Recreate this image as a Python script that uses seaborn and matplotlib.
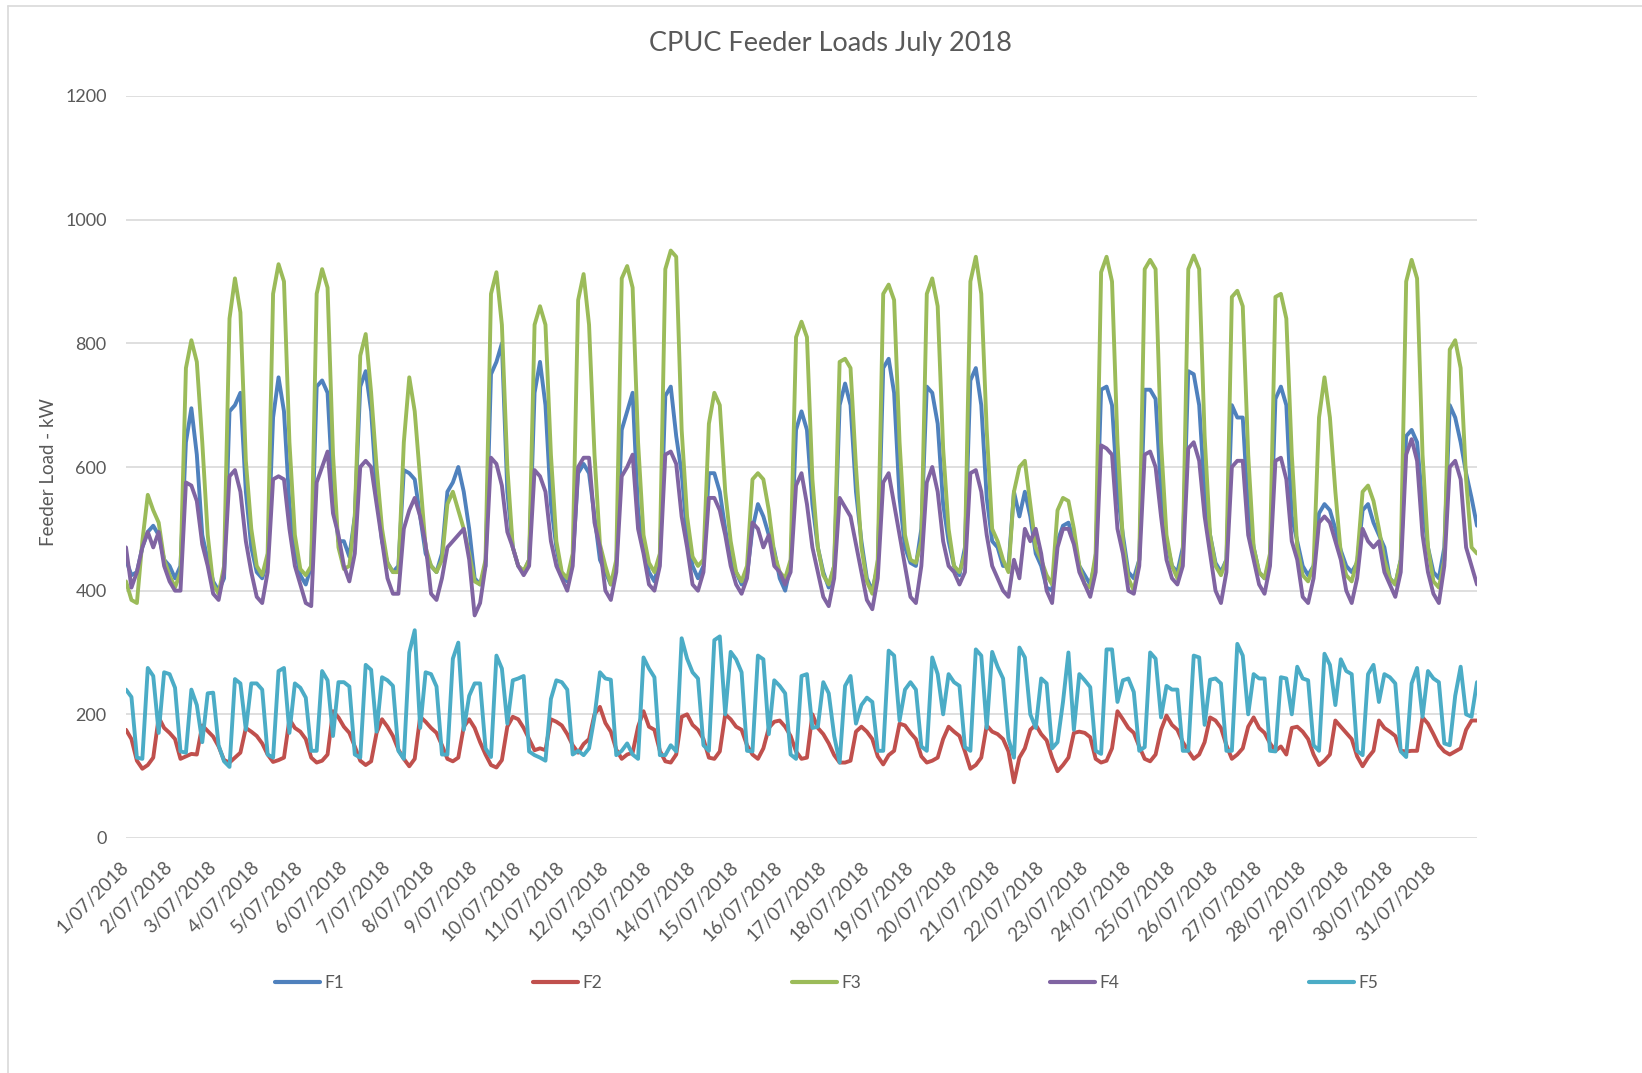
import numpy as np
import pandas as pd
import matplotlib
matplotlib.use("Agg")
import matplotlib.pyplot as plt
from matplotlib.lines import Line2D
import seaborn as sns

# ---------------- data (3-hourly readings, 00h,03h,...,21h per day; last value = end of 31/07) ----------------
day_labels = [f"{d}/07/2018" for d in range(1, 32)]
feeders = ["F1", "F2", "F3", "F4", "F5"]
step_hours = 3

F1 = [450, 425, 430, 470, 495, 505, 490, 450,
      440, 420, 440, 640, 695, 620, 490, 450,
      415, 400, 420, 690, 700, 720, 560, 470,
      430, 420, 450, 680, 745, 690, 540, 470,
      425, 410, 440, 730, 740, 720, 560, 480,
      480, 455, 520, 730, 755, 690, 560, 480,
      445, 430, 440, 595, 590, 580, 520, 460,
      440, 430, 460, 560, 575, 600, 560, 500,
      420, 410, 440, 750, 770, 800, 560, 470,
      440, 430, 450, 720, 770, 700, 540, 470,
      425, 415, 450, 590, 605, 590, 520, 450,
      430, 410, 440, 660, 690, 720, 530, 470,
      430, 415, 450, 715, 730, 650, 590, 490,
      440, 420, 440, 590, 590, 560, 500, 450,
      430, 410, 425, 500, 540, 520, 490, 465,
      420, 400, 440, 660, 690, 660, 540, 470,
      430, 405, 440, 700, 735, 700, 560, 480,
      420, 400, 440, 760, 775, 720, 550, 470,
      445, 440, 500, 730, 720, 670, 540, 480,
      440, 425, 470, 740, 760, 700, 550, 480,
      470, 440, 440, 560, 520, 560, 520, 460,
      440, 405, 400, 480, 505, 510, 480, 440,
      425, 410, 450, 725, 730, 700, 560, 490,
      430, 420, 450, 725, 725, 710, 560, 480,
      440, 430, 470, 755, 750, 700, 560, 490,
      445, 430, 450, 700, 680, 680, 530, 470,
      430, 420, 450, 710, 730, 700, 520, 480,
      440, 425, 440, 525, 540, 530, 500, 465,
      440, 430, 445, 530, 540, 510, 490, 470,
      420, 410, 450, 650, 660, 640, 540, 470,
      430, 420, 470, 700, 680, 640, 590, 550,
      505]

F2 = [175, 160, 125, 112, 118, 130, 195, 178,
      170, 160, 128, 132, 136, 135, 182, 173,
      164, 148, 126, 122, 130, 138, 178, 172,
      165, 153, 135, 123, 126, 130, 192, 178,
      172, 160, 130, 122, 125, 135, 205, 195,
      180, 170, 148, 125, 118, 124, 170, 192,
      180, 165, 143, 128, 116, 128, 196, 188,
      178, 170, 150, 128, 124, 130, 180, 192,
      178, 155, 135, 118, 114, 126, 180, 196,
      192, 178, 160, 142, 145, 142, 192, 188,
      182, 168, 150, 138, 152, 160, 200, 212,
      186, 172, 143, 128, 135, 138, 180, 205,
      180, 175, 141, 124, 122, 135, 196, 200,
      183, 175, 160, 130, 128, 140, 200, 192,
      180, 175, 150, 135, 128, 145, 178, 188,
      190, 180, 165, 140, 128, 130, 200, 178,
      168, 153, 134, 122, 122, 125, 172, 180,
      172, 160, 132, 119, 134, 141, 185, 182,
      170, 160, 132, 122, 125, 130, 160, 180,
      172, 165, 140, 112, 118, 130, 182, 172,
      168, 160, 140, 90, 130, 145, 175, 183,
      168, 158, 130, 108, 118, 130, 170, 172,
      170, 163, 128, 122, 125, 145, 205, 192,
      178, 170, 148, 128, 124, 135, 175, 198,
      183, 175, 155, 141, 128, 135, 155, 195,
      190, 178, 150, 128, 135, 145, 180, 195,
      178, 170, 153, 141, 148, 135, 178, 180,
      172, 160, 135, 118, 125, 135, 190, 180,
      170, 160, 132, 116, 130, 141, 190, 178,
      172, 165, 141, 140, 141, 141, 195, 185,
      168, 150, 140, 135, 140, 145, 175, 190,
      190]

F3 = [415, 385, 380, 480, 555, 530, 510, 450,
      425, 405, 430, 760, 805, 770, 640, 490,
      410, 395, 440, 840, 905, 850, 610, 500,
      440, 425, 460, 880, 928, 900, 640, 490,
      435, 425, 440, 880, 920, 890, 620, 470,
      435, 440, 520, 780, 815, 720, 600, 500,
      445, 430, 430, 640, 745, 690, 580, 470,
      440, 430, 450, 540, 560, 530, 500, 460,
      415, 410, 450, 880, 915, 830, 600, 470,
      440, 432, 450, 830, 860, 830, 620, 480,
      430, 420, 460, 870, 912, 830, 620, 475,
      440, 410, 450, 905, 925, 890, 640, 490,
      445, 430, 460, 920, 950, 940, 660, 520,
      455, 440, 450, 670, 720, 700, 560, 480,
      430, 415, 440, 580, 590, 580, 530, 460,
      430, 420, 450, 810, 835, 810, 580, 470,
      425, 410, 440, 770, 775, 760, 600, 470,
      415, 395, 450, 880, 895, 870, 640, 490,
      450, 445, 480, 880, 905, 860, 630, 500,
      440, 430, 460, 900, 940, 880, 660, 500,
      480, 450, 430, 560, 600, 610, 540, 470,
      450, 425, 410, 530, 550, 545, 500, 440,
      410, 405, 460, 915, 940, 900, 640, 480,
      420, 400, 450, 920, 935, 920, 640, 490,
      440, 420, 460, 920, 942, 920, 650, 490,
      440, 425, 450, 875, 885, 860, 620, 470,
      430, 420, 460, 875, 880, 840, 620, 470,
      425, 415, 440, 680, 745, 680, 560, 460,
      425, 415, 450, 560, 570, 545, 500, 450,
      420, 410, 450, 900, 935, 905, 620, 470,
      415, 405, 450, 790, 805, 760, 580, 470,
      460]

F4 = [470, 405, 430, 470, 495, 470, 495, 440,
      415, 400, 400, 575, 570, 545, 475, 440,
      395, 385, 430, 585, 595, 560, 480, 430,
      390, 380, 430, 580, 585, 580, 500, 440,
      410, 380, 375, 575, 600, 625, 525, 490,
      440, 415, 460, 600, 610, 600, 540, 480,
      420, 395, 395, 500, 530, 550, 520, 475,
      395, 385, 420, 470, 480, 490, 500, 450,
      360, 380, 440, 615, 605, 570, 495, 470,
      440, 425, 440, 595, 585, 560, 480, 440,
      420, 400, 440, 600, 615, 615, 510, 470,
      400, 385, 430, 585, 600, 620, 500, 460,
      410, 400, 440, 620, 625, 605, 520, 470,
      410, 400, 430, 550, 550, 530, 490, 440,
      410, 395, 420, 510, 500, 470, 490, 440,
      430, 410, 430, 570, 590, 540, 470, 430,
      390, 375, 420, 550, 535, 520, 475, 430,
      385, 370, 420, 575, 590, 540, 490, 440,
      390, 380, 440, 575, 600, 560, 480, 440,
      430, 410, 430, 590, 595, 560, 490, 440,
      420, 400, 390, 450, 420, 500, 480, 500,
      460, 400, 380, 470, 500, 500, 475, 430,
      410, 390, 430, 635, 630, 620, 500, 460,
      400, 395, 440, 620, 625, 600, 520, 450,
      420, 410, 440, 630, 640, 610, 520, 460,
      400, 380, 430, 600, 610, 610, 490, 450,
      410, 395, 440, 610, 615, 580, 480, 450,
      390, 380, 420, 510, 520, 510, 480, 450,
      400, 380, 420, 500, 480, 470, 480, 430,
      410, 390, 430, 620, 645, 610, 490, 430,
      395, 380, 440, 600, 610, 580, 470, 440,
      410]

F5 = [240, 228, 130, 128, 275, 262, 170, 268,
      265, 243, 140, 138, 240, 215, 155, 234,
      235, 150, 124, 115, 257, 250, 175, 250,
      250, 240, 135, 130, 270, 275, 170, 250,
      243, 227, 141, 141, 270, 255, 165, 252,
      252, 245, 135, 130, 280, 272, 172, 260,
      255, 246, 141, 128, 300, 336, 178, 268,
      265, 245, 135, 135, 290, 316, 175, 230,
      250, 250, 145, 131, 295, 274, 185, 255,
      258, 262, 140, 134, 130, 125, 225, 255,
      252, 240, 135, 141, 134, 145, 196, 268,
      258, 256, 134, 141, 153, 135, 128, 292,
      274, 260, 134, 134, 150, 140, 323, 290,
      268, 258, 150, 141, 320, 326, 200, 301,
      289, 268, 141, 140, 295, 289, 168, 255,
      246, 234, 135, 128, 262, 265, 178, 180,
      252, 234, 165, 122, 246, 262, 185, 215,
      227, 220, 141, 141, 303, 295, 190, 240,
      252, 240, 148, 141, 292, 265, 200, 265,
      252, 246, 147, 141, 305, 295, 178, 301,
      277, 258, 160, 130, 308, 292, 200, 178,
      258, 250, 145, 155, 220, 300, 175, 265,
      255, 244, 141, 136, 305, 305, 220, 255,
      258, 236, 141, 147, 300, 290, 195, 246,
      240, 240, 141, 141, 295, 292, 183, 256,
      258, 250, 141, 141, 314, 295, 200, 265,
      258, 258, 141, 140, 260, 258, 200, 277,
      258, 255, 150, 141, 298, 280, 215, 289,
      270, 265, 141, 134, 265, 280, 220, 265,
      260, 250, 140, 131, 250, 275, 196, 270,
      258, 252, 153, 150, 230, 277, 200, 196,
      252]

palette = {"F1": "#4F81BD", "F2": "#C0504D", "F3": "#9BBB59", "F4": "#8064A2", "F5": "#4BACC6"}

# ---------------- build long table ----------------
series = [F1, F2, F3, F4, F5]
n = len(F1)
t_days = np.arange(n) * step_hours / 24.0
df = pd.DataFrame({
    "t": np.concatenate([t_days] * len(series)),
    "load": np.concatenate([np.asarray(s, float) for s in series]),
    "feeder": np.repeat(feeders, n),
})

# ---------------- figure ----------------
sns.set_theme(style="white")
plt.rcParams["font.family"] = ["Lato", "DejaVu Sans"]
txt = "#595959"
W, H = 1642, 1073
fig = plt.figure(figsize=(W / 100, H / 100), dpi=100)
fig.patch.set_facecolor("white")

left, right, top, bottom = 126, 1477, 96, 838
ax = fig.add_axes([left / W, 1 - bottom / H, (right - left) / W, (bottom - top) / H])

sns.lineplot(data=df, x="t", y="load", hue="feeder", hue_order=feeders,
             palette=palette, linewidth=2.8, estimator=None, sort=False,
             legend=False, ax=ax)

ax.set_xlim(0, 31)
ax.set_ylim(0, 1200)
ax.set_yticks(range(0, 1201, 200))
ax.set_xticks(range(31))
ax.set_xticklabels(day_labels, rotation=45, ha="right", va="center",
                   rotation_mode="anchor", fontsize=13.5, color=txt)
ax.tick_params(axis="y", labelsize=13, colors=txt, length=0, pad=14)
ax.tick_params(axis="x", length=0, pad=19)
ax.yaxis.grid(True, color="#d9d9d9", linewidth=1.2)
ax.xaxis.grid(False)
ax.set_axisbelow(True)
for s in ax.spines.values():
    s.set_visible(False)
ax.set_xlabel("")
ax.set_ylabel("")

fig.text(830 / W, 1 - 44 / H, "CPUC Feeder Loads July 2018", ha="center", va="center",
         fontsize=19.5, color=txt)
fig.text(48 / W, 1 - 472 / H, "Feeder Load - kW", rotation=90, ha="center", va="center",
         fontsize=13.5, color=txt)

handles = [Line2D([0], [0], color=palette[f], linewidth=3.0, solid_capstyle="round") for f in feeders]
fig.legend(handles, feeders, loc="center left", bbox_to_anchor=(266 / W, 1 - 983 / H),
           ncol=5, frameon=False, fontsize=12.5, handlelength=2.6, handletextpad=0.25,
           columnspacing=10.9, borderpad=0, labelcolor=txt)

# chart-area border (top and left edges visible in the crop)
fig.add_artist(Line2D([8 / W, 1], [1 - 6 / H, 1 - 6 / H], transform=fig.transFigure,
                      color="#d9d9d9", linewidth=1.2))
fig.add_artist(Line2D([8 / W, 8 / W], [0, 1 - 6 / H], transform=fig.transFigure,
                      color="#d9d9d9", linewidth=1.2))

fig.savefig("out.png", dpi=100, facecolor="white")
